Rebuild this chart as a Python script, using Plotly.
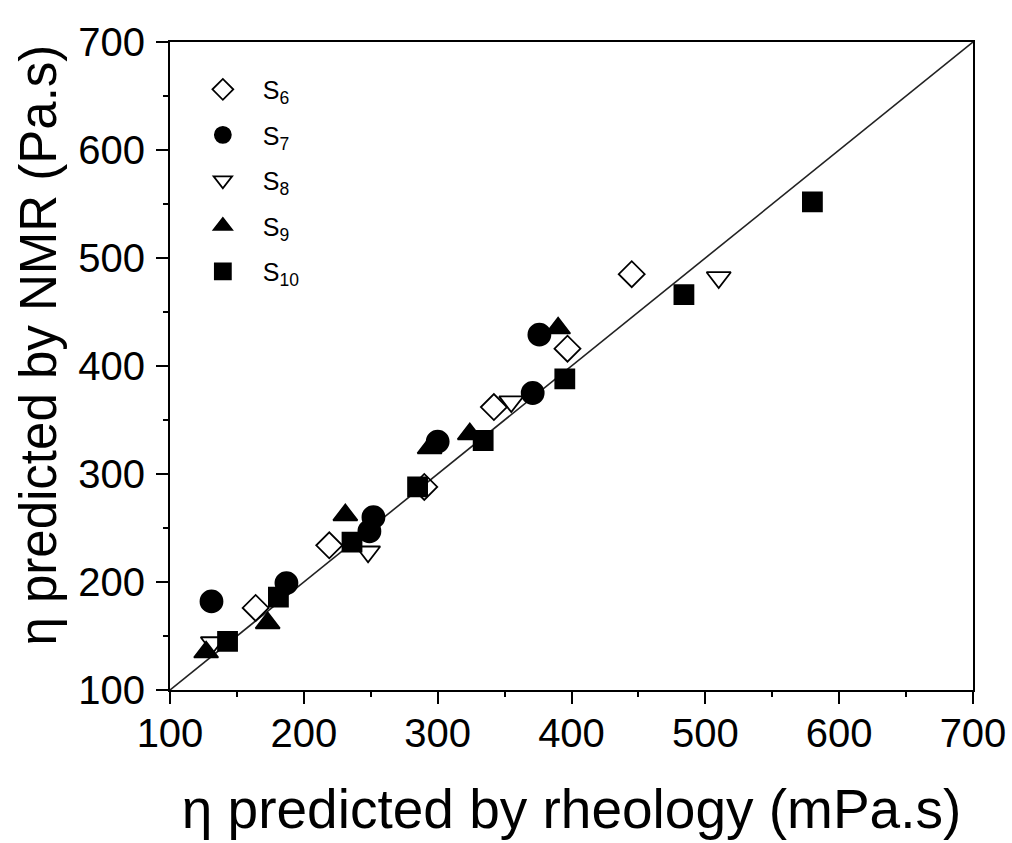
import plotly.graph_objects as go

# Data
s6_x = [164, 219, 290, 342, 397, 445]
s6_y = [176, 234, 288, 362, 416, 485]
s7_x = [131, 187, 249, 252, 300, 371, 376]
s7_y = [182, 199, 247, 260, 330, 375, 429]
s8_x = [132, 248, 355, 510]
s8_y = [144, 228, 367, 482]
s9_x = [127, 173, 231, 294, 324, 390]
s9_y = [135, 162, 262, 324, 337, 435]
s10_x = [143, 181, 236, 285, 334, 395, 484, 580]
s10_y = [145, 186, 237, 288, 331, 388, 466, 552]
line_x = [100, 700]
line_y = [100, 700]
tick_vals = [100, 200, 300, 400, 500, 600, 700]

FONT = "Arial, Liberation Sans, sans-serif"

fig = go.Figure()
fig.add_trace(go.Scatter(x=line_x, y=line_y, mode="lines",
                         line=dict(color="#222222", width=1.6),
                         showlegend=False, hoverinfo="skip"))

series = [
    ("S<sub>6</sub>", s6_x, s6_y, "diamond-open", 20, "s6"),
    ("S<sub>7</sub>", s7_x, s7_y, "circle", 22, "s7"),
    ("S<sub>8</sub>", s8_x, s8_y, "triangle-down-open", 21, "s8"),
    ("S<sub>9</sub>", s9_x, s9_y, "triangle-up", 21, "s9"),
    ("S<sub>10</sub>", s10_x, s10_y, "square", 19, "s10"),
]
for name, xs, ys, sym, size, grp in series:
    fig.add_trace(go.Scatter(
        x=xs, y=ys, mode="markers", name=name, legendgroup=grp,
        marker=dict(symbol=sym, size=size, color="black",
                    line=dict(color="black", width=1.8)),
    ))

axis_common = dict(
    range=[100, 700], tickvals=tick_vals, ticks="outside", ticklen=12,
    tickwidth=1.5, tickcolor="black", showline=True, linecolor="black",
    linewidth=2, mirror=True, showgrid=False, zeroline=False,
    automargin=False,
    tickfont=dict(family=FONT, size=40, color="black"),
    minor=dict(dtick=50, ticks="outside", ticklen=5, tickwidth=1.5,
               tickcolor="black", showgrid=False),
)

fig.update_layout(
    width=1012, height=843,
    margin=dict(l=170, r=39, t=42, b=153),
    paper_bgcolor="white", plot_bgcolor="white",
    xaxis=dict(**axis_common, ticklabelstandoff=-5,
               title=dict(text="η predicted by rheology (mPa.s)",
                          font=dict(family=FONT, size=55, color="black"),
                          standoff=35)),
    yaxis=dict(**axis_common, ticklabelstandoff=3),
    legend=dict(x=0.016, y=0.962, xanchor="left", yanchor="top",
                bgcolor="rgba(0,0,0,0)", borderwidth=0,
                font=dict(family=FONT, size=25, color="black"),
                tracegroupgap=10, itemwidth=70),
    showlegend=True,
    annotations=[dict(
        text="η predicted by NMR (Pa.s)", textangle=-90,
        xref="paper", yref="paper", x=-0.164, y=0.532,
        xanchor="center", yanchor="middle", showarrow=False,
        font=dict(family=FONT, size=51, color="black"),
    )],
)

fig.write_html("out.html")
